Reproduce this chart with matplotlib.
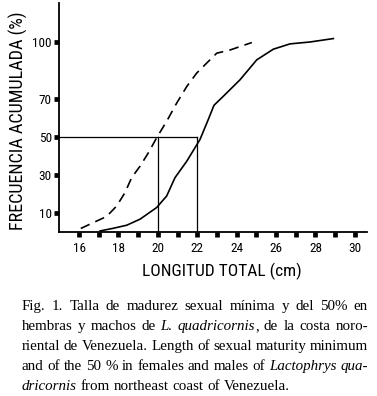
import matplotlib
matplotlib.use('Agg')
import matplotlib.pyplot as plt

plt.rcParams['lines.scale_dashes'] = False
narrow = ['Roboto Condensed', 'Liberation Sans Narrow', 'Liberation Sans', 'DejaVu Sans']
serif = ['Liberation Serif', 'DejaVu Serif']

# dashed curve
dash_x = [16.09, 16.73, 17.4, 17.91, 18.33, 18.67, 19.1, 19.52, 19.94, 20.45,
          20.96, 21.47, 21.97, 22.48, 22.99, 23.67, 24.77]
dash_y = [1.7, 4.8, 8.0, 13.5, 20.5, 28.4, 34.5, 41.5, 49.4, 58.1,
          67.7, 76.4, 83.4, 88.7, 93.9, 95.6, 99.5]
# solid curve
sol_x = [17.07, 17.74, 18.42, 19.1, 19.94, 20.45, 20.87, 21.47, 22.14, 22.56,
         22.85, 23.32, 24.17, 25.02, 25.86, 26.71, 27.73, 28.91]
sol_y = [0.4, 1.8, 3.4, 6.6, 12.7, 18.8, 28.4, 37.1, 48.5, 59,
         66.5, 71.2, 79.9, 90.4, 96, 98.8, 99.8, 101.6]
l50_f = 20
l50_m = 22
yticks = [10, 30, 50, 70, 100]
xticks = list(range(16, 31))
xlabels = [str(v) if v % 2 == 0 else '' for v in xticks]

W, H = 377, 396
fig = plt.figure(figsize=(W/100, H/100), dpi=100)
ax = fig.add_axes([59.3/W, 1-231.7/H, (366.7-59.3)/W, (231.7-3)/H])

ax.plot(dash_x, dash_y, color='black', lw=1.2, dashes=(7, 4.5))
ax.plot(sol_x, sol_y, color='black', lw=1.2)
ax.plot([15, l50_m], [50, 50], color='black', lw=0.9)
ax.plot([l50_f, l50_f], [0, 50], color='black', lw=0.9)
ax.plot([l50_m, l50_m], [0, 50], color='black', lw=0.9)

ax.set_xlim(15, 30.6)
ax.set_ylim(0, 120.3)
for s in ['top', 'right']:
    ax.spines[s].set_visible(False)
for s in ['left', 'bottom']:
    ax.spines[s].set_linewidth(1.3)
ax.set_yticks(yticks)
ax.set_yticklabels([str(v) for v in yticks], family=narrow, fontsize=9.5)
ax.set_xticks(xticks)
ax.set_xticklabels(xlabels, family=narrow, fontsize=9.5)
ax.tick_params(axis='both', direction='out', length=3.4, width=3.4, pad=2)
ax.tick_params(axis='x', pad=4)

ylab = fig.text(18.3/W, 1-121/H, 'FRECUENCIA ACUMULADA (%)', rotation=90,
                ha='center', va='center', family=narrow, fontsize=12)
xlab = fig.text(221.7/W, 1-271/H, 'LONGITUD TOTAL (cm)', ha='center', va='center',
                family=narrow, fontsize=12.5)

renderer = fig.canvas.get_renderer()
# fit the label lengths seen in the reference
for t, target, horiz in [(ylab, 218, False), (xlab, 160, True)]:
    bb = t.get_window_extent(renderer)
    size = bb.width if horiz else bb.height
    t.set_fontsize(t.get_fontsize() * target / size)

# caption, justified
cap_lines = [
    'Fig. 1. Talla de madurez sexual mínima y del 50% en',
    'hembras y machos de *L. quadricornis*, de la costa noro-',
    'riental de Venezuela. Length of sexual maturity minimum',
    'and of the 50 % in females and males of *Lactophrys qua-*',
    '*dricornis* from northeast coast of Venezuela.',
]
left, right = 22, 368
base0, step = 310, 20
fs = 10.8


def split_word(word, ital):
    segs = []
    cur = ''
    for ch in word:
        if ch == '*':
            if cur:
                segs.append((cur, ital))
            cur = ''
            ital = not ital
        else:
            cur += ch
    if cur:
        segs.append((cur, ital))
    return segs, ital


for i, line in enumerate(cap_lines):
    ital = False
    words = []
    for w in line.split(' '):
        segs, ital = split_word(w, ital)
        words.append(segs)
    y = 1 - (base0 + i*step)/H
    texts = []
    widths = []
    for segs in words:
        wt = []
        ww = 0
        for txt, it in segs:
            t = fig.text(0, y, txt, family=serif, fontsize=fs,
                         style='italic' if it else 'normal', va='baseline')
            bw = t.get_window_extent(renderer).width
            wt.append((t, bw))
            ww += bw
        texts.append(wt)
        widths.append(ww)
    if i < len(cap_lines) - 1:
        gap = (right - left - sum(widths)) / (len(words) - 1)
    else:
        gap = fs * 100 / 72 * 0.25
    x = left
    for wt, ww in zip(texts, widths):
        xx = x
        for t, bw in wt:
            t.set_x(xx/W)
            xx += bw
        x += ww + gap

fig.savefig('out.png', dpi=100)
